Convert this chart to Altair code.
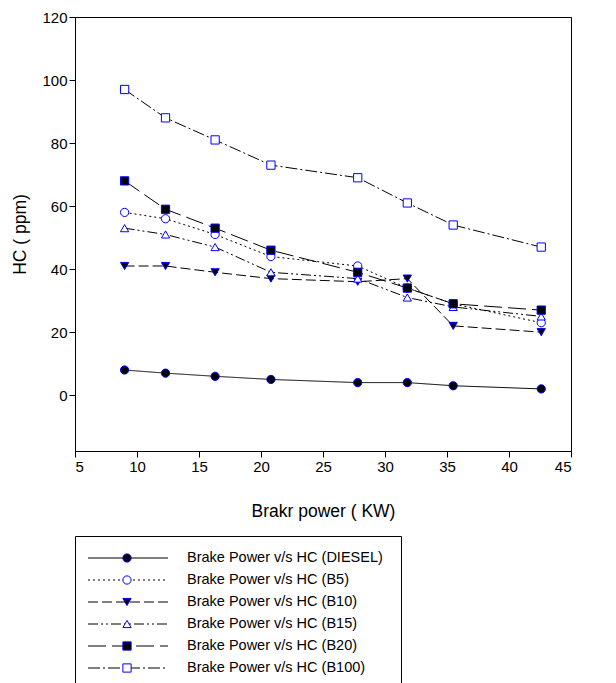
import altair as alt
import pandas as pd

# ---- data ----
power = [9.0, 12.3, 16.3, 20.8, 27.8, 31.8, 35.5, 42.6]
hc_diesel = [8, 7, 6, 5, 4, 4, 3, 2]
hc_b5 = [58, 56, 51, 44, 41, 34, 29, 23]
hc_b10 = [41, 41, 39, 37, 36, 37, 22, 20]
hc_b15 = [53, 51, 47, 39, 37, 31, 28, 25]
hc_b20 = [68, 59, 53, 46, 39, 34, 29, 27]
hc_b100 = [97, 88, 81, 73, 69, 61, 54, 47]

series_names = [
    "Brake Power v/s HC (DIESEL)",
    "Brake Power v/s HC (B5)",
    "Brake Power v/s HC (B10)",
    "Brake Power v/s HC (B15)",
    "Brake Power v/s HC (B20)",
    "Brake Power v/s HC (B100)",
]
x_ticks = [5, 10, 15, 20, 25, 30, 35, 40, 45]
y_ticks = [0, 20, 40, 60, 80, 100, 120]

# ---- styles ----
dashes = [[1, 0], [2, 3], [10, 4], [10, 3, 2, 3, 2, 3], [18, 6], [12, 3, 2, 3]]
shapes = ["circle", "circle", "triangle-down", "triangle-up", "square", "square"]
fills = ["black", "white", "black", "white", "black", "white"]
BLUE = "#0000ff"
FONT = "Liberation Sans"

rows = []
for name, vals in zip(series_names, [hc_diesel, hc_b5, hc_b10, hc_b15, hc_b20, hc_b100]):
    for xv, yv in zip(power, vals):
        rows.append({"series": name, "power": xv, "hc": yv})
df = pd.DataFrame(rows)

sd = alt.Scale(domain=series_names, range=dashes)
sh = alt.Scale(domain=series_names, range=shapes)
fl = alt.Scale(domain=series_names, range=fills)

base = alt.Chart(df).encode(
    x=alt.X("power:Q", scale=alt.Scale(domain=[5, 45], nice=False),
            axis=alt.Axis(values=x_ticks, title="Brakr power ( KW)", titlePadding=28)),
    y=alt.Y("hc:Q", scale=alt.Scale(domain=[-17.7, 120], nice=False, zero=False),
            axis=alt.Axis(values=y_ticks, title="HC ( ppm)", titlePadding=12)),
)
lines = base.mark_line(color="black", strokeWidth=1).encode(
    strokeDash=alt.StrokeDash("series:N", scale=sd, legend=None),
    detail="series:N",
)
points = base.mark_point(filled=True, size=68, stroke=BLUE, strokeWidth=1,
                         opacity=1, fillOpacity=1).encode(
    shape=alt.Shape("series:N", scale=sh, legend=None),
    fill=alt.Fill("series:N", scale=fl, legend=None),
)
main = alt.layer(lines, points).properties(width=496, height=434)

# ---- hand-made legend box ----
leg_df = pd.DataFrame({"series": series_names})
ly = alt.Y("series:N", scale=alt.Scale(type="point", domain=series_names, range=[22, 132], padding=0), axis=None)
leg_rule = alt.Chart(leg_df).mark_rule(color="black", strokeWidth=1).encode(
    x=alt.value(13), x2=alt.value(93), y=ly,
    strokeDash=alt.StrokeDash("series:N", scale=sd, legend=None),
)
leg_pt = alt.Chart(leg_df).mark_point(filled=True, size=68, stroke=BLUE, strokeWidth=1,
                                      opacity=1, fillOpacity=1).encode(
    x=alt.value(52), y=ly,
    shape=alt.Shape("series:N", scale=sh, legend=None),
    fill=alt.Fill("series:N", scale=fl, legend=None),
)
leg_txt = alt.Chart(leg_df).mark_text(align="left", baseline="middle", fontSize=14.5,
                                      font=FONT, color="black").encode(
    x=alt.value(112), y=ly, text="series:N",
)
legend = alt.layer(leg_rule, leg_pt, leg_txt).properties(width=326, height=160)

chart = alt.vconcat(main, legend, spacing=15).properties(
    padding={"left": 3, "top": 1, "right": 5, "bottom": 0}
).configure(font=FONT).configure_view(
    stroke="black", strokeWidth=1
).configure_axis(
    grid=False, domainColor="black", domainWidth=1, tickColor="black", tickSize=6,
    labelColor="black", labelFontSize=15, labelFont=FONT,
    titleColor="black", titleFontSize=17.5, titleFont=FONT, titleFontWeight="normal",
)

chart.save("out.html", embed_options={"renderer": "svg", "actions": False})
